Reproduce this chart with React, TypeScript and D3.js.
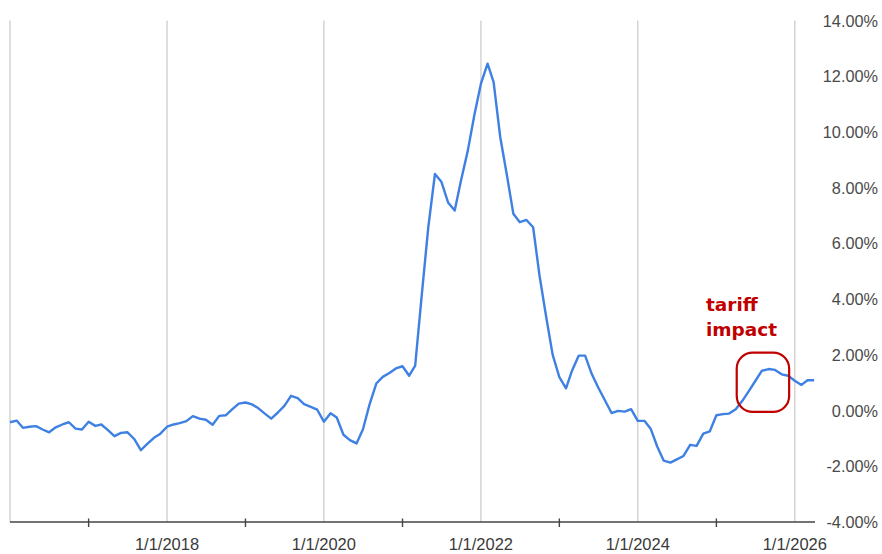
import { FC, useMemo } from "react";
import * as d3 from "d3";

const WIDTH = 882;
const HEIGHT = 554;
// plot area edges, in px
const PLOT = { left: 10, right: 815, top: 20.5, bottom: 522 };

// monthly series, first point is Jan 2016
const START_YEAR = 2016;
const pctValues = [
  -0.42, -0.36, -0.62, -0.58, -0.56, -0.68, -0.78, -0.6, -0.5, -0.42, -0.65, -0.68,
  -0.4, -0.55, -0.5, -0.7, -0.92, -0.8, -0.78, -1.02, -1.42, -1.2, -0.98, -0.83,
  -0.58, -0.5, -0.45, -0.38, -0.2, -0.29, -0.33, -0.51, -0.19, -0.17, 0.05, 0.25,
  0.29, 0.22, 0.09, -0.11, -0.29, -0.07, 0.17, 0.53, 0.45, 0.23, 0.13, 0.03,
  -0.4, -0.1, -0.25, -0.87, -1.06, -1.18, -0.67, 0.23, 0.97, 1.21, 1.35, 1.51,
  1.59, 1.25, 1.61, 4.18, 6.58, 8.49, 8.21, 7.47, 7.18, 8.28, 9.33, 10.59,
  11.73, 12.45, 11.79, 9.81, 8.49, 7.06, 6.76, 6.84, 6.58, 4.83, 3.35, 2.0,
  1.2, 0.8, 1.43, 1.97, 1.97, 1.31, 0.83, 0.37, -0.09, -0.01, -0.04, 0.05,
  -0.37, -0.37, -0.65, -1.3, -1.8, -1.87, -1.75, -1.63, -1.23, -1.27, -0.83, -0.75,
  -0.17, -0.13, -0.11, 0.05, 0.34, 0.7, 1.06, 1.43, 1.49, 1.46, 1.3, 1.25,
  1.07, 0.92, 1.09, 1.09,
];

const yTicks = [-4, -2, 0, 2, 4, 6, 8, 10, 12, 14];
const majorYears = [2018, 2020, 2022, 2024, 2026];
const gridYears = [2016, 2018, 2020, 2022, 2024, 2026];
const minorYears = [2017, 2019, 2021, 2023, 2025];
const noteLines = ["tariff", "impact"];
// month range that the note box encloses
const noteFrom = 111;
const noteTo = 119;

const LINE_BLUE = "#3f80e3";
const NOTE_RED = "#c00000";
const LABEL_FONT = "'Liberation Sans', Arial, sans-serif";

const App: FC = () => {
  const data = useMemo(
    () =>
      pctValues.map((v, i) => ({
        date: new Date(START_YEAR, i, 1),
        value: v,
      })),
    []
  );

  const xScale = d3
    .scaleTime()
    .domain([new Date(2016, 0, 1), new Date(2026, 3, 5)])
    .range([PLOT.left, PLOT.right]);

  const yScale = d3.scaleLinear().domain([-4, 14]).range([PLOT.bottom, PLOT.top]);

  const linePath = d3
    .line<{ date: Date; value: number }>()
    .x((d) => xScale(d.date))
    .y((d) => yScale(d.value))(data);

  // rounded box around the recent bump
  const boxX1 = xScale(data[noteFrom].date) + 1;
  const boxX2 = xScale(data[noteTo].date) + 1;
  const boxY1 = yScale(2.08);
  const boxY2 = yScale(-0.05);

  return (
    <svg
      width={WIDTH}
      height={HEIGHT}
      style={{ position: "absolute", left: 0, top: 0, background: "#fff" }}
    >
      {gridYears.map((yr) => (
        <line
          key={yr}
          x1={xScale(new Date(yr, 0, 1))}
          x2={xScale(new Date(yr, 0, 1))}
          y1={PLOT.top}
          y2={PLOT.bottom}
          stroke="#d4d4d4"
          strokeWidth={1.5}
        />
      ))}

      <line
        x1={PLOT.left}
        x2={PLOT.right}
        y1={PLOT.bottom}
        y2={PLOT.bottom}
        stroke="#444"
        strokeWidth={1.6}
      />
      {minorYears.map((yr) => (
        <line
          key={yr}
          x1={xScale(new Date(yr, 0, 1))}
          x2={xScale(new Date(yr, 0, 1))}
          y1={PLOT.bottom - 3.5}
          y2={PLOT.bottom + 5}
          stroke="#444"
          strokeWidth={1.4}
        />
      ))}

      <path d={linePath ?? ""} fill="none" stroke={LINE_BLUE} strokeWidth={2.4} strokeLinejoin="round" />

      {yTicks.map((t) => (
        <text
          key={t}
          x={878}
          y={yScale(t)}
          textAnchor="end"
          dominantBaseline="central"
          fontFamily={LABEL_FONT}
          fontSize={16.3}
          fill="#4a4a4a"
        >
          {`${t.toFixed(2)}%`}
        </text>
      ))}

      {majorYears.map((yr) => (
        <text
          key={yr}
          x={xScale(new Date(yr, 0, 1))}
          y={550}
          textAnchor="middle"
          fontFamily={LABEL_FONT}
          fontSize={16.5}
          fill="#3a3a3a"
        >
          {`1/1/${yr}`}
        </text>
      ))}

      <rect
        x={boxX1}
        y={boxY1}
        width={boxX2 - boxX1}
        height={boxY2 - boxY1}
        rx={16}
        fill="none"
        stroke={NOTE_RED}
        strokeWidth={2.2}
      />
      {noteLines.map((s, i) => (
        <text
          key={s}
          x={706}
          y={311 + i * 25}
          fontFamily="'DejaVu Sans', Verdana, sans-serif"
          fontWeight="bold"
          fontSize={18.5}
          fill={NOTE_RED}
        >
          {s}
        </text>
      ))}
    </svg>
  );
};

export default App;
